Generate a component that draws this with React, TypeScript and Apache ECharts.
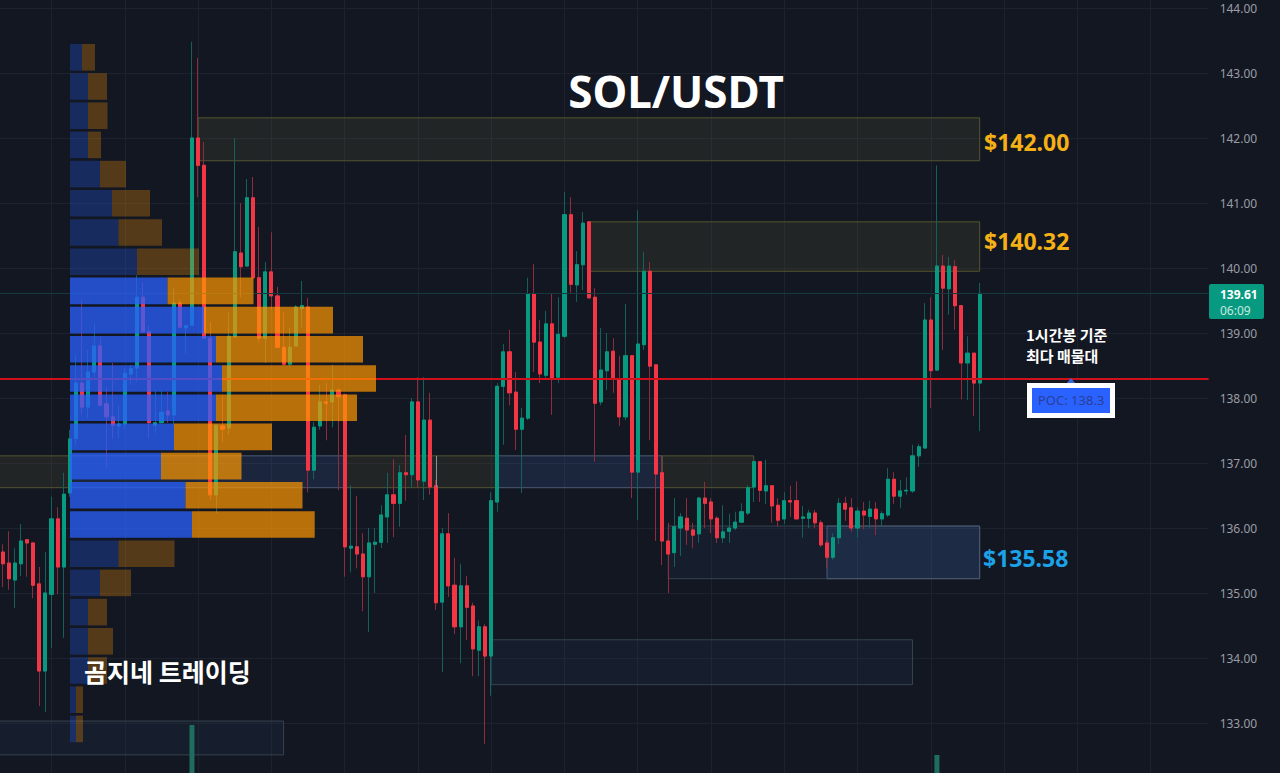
import React, { useEffect, useRef } from 'react';
import * as echarts from 'echarts';

const BG = '#131722';
const UP = '#089981';
const DOWN = '#f23645';

// one hourly candle per entry
const opens = [
  135.63, 135.46, 135.20, 135.45, 135.82, 135.77, 135.14, 133.80, 134.98, 136.14, 135.40, 136.54, 137.38, 138.23, 137.86, 138.40,
  138.80, 137.91, 137.71, 137.57, 137.60, 138.37, 138.46, 139.55, 139.02, 137.58, 137.62, 137.80, 137.74, 139.46, 139.08, 139.12,
  142.00, 141.58, 138.92, 136.51, 137.57, 137.54, 138.94, 140.23, 140.03, 141.08, 139.85, 138.92, 139.94, 139.57, 138.78, 138.52,
  138.80, 139.38, 139.40, 136.89, 137.57, 137.94, 137.94, 138.12, 138.05, 135.69, 135.71, 135.60, 135.25, 135.75, 135.78, 136.17,
  136.51, 136.38, 136.85, 136.82, 137.94, 136.72, 137.66, 136.65, 134.86, 135.91, 135.12, 134.48, 135.11, 134.80, 134.12, 134.48,
  134.03, 136.40, 138.18, 138.71, 138.09, 137.52, 137.69, 139.60, 138.86, 138.35, 139.14, 138.32, 138.95, 140.82, 139.74, 140.05,
  140.71, 139.55, 137.94, 138.42, 138.72, 138.28, 137.71, 138.65, 136.86, 138.82, 139.95, 138.51, 136.85, 135.80, 135.62, 136.00,
  136.15, 135.97, 135.91, 136.46, 136.40, 136.15, 135.85, 135.95, 136.00, 136.09, 136.23, 136.63, 137.02, 136.57, 136.65, 136.35,
  136.14, 136.42, 136.42, 136.15, 136.15, 136.23, 136.08, 135.77, 135.55, 135.85, 136.38, 136.31, 136.00, 136.26, 136.18, 136.29,
  136.14, 136.20, 136.75, 136.49, 136.57, 136.57, 137.11, 137.23, 139.20, 138.43, 140.03, 139.68, 140.02, 139.42, 138.54, 138.69,
  138.23,
];
const closes = [
  135.45, 135.22, 135.46, 135.80, 135.77, 135.12, 133.80, 135.00, 136.14, 135.40, 136.52, 137.37, 138.23, 137.86, 138.40, 138.80,
  137.89, 137.71, 137.58, 137.60, 138.38, 138.45, 139.55, 139.02, 137.62, 137.62, 137.78, 137.74, 139.46, 139.09, 139.11, 142.00,
  141.58, 138.92, 136.51, 137.58, 137.52, 138.95, 140.25, 140.02, 141.08, 139.85, 138.92, 139.94, 139.57, 138.78, 138.52, 138.78,
  139.40, 139.42, 136.89, 137.55, 137.94, 137.92, 138.12, 138.02, 135.71, 135.72, 135.60, 135.25, 135.77, 135.78, 136.20, 136.51,
  136.38, 136.85, 136.82, 137.94, 136.74, 137.66, 136.63, 134.85, 135.91, 135.11, 134.48, 135.11, 134.78, 134.14, 134.48, 134.03,
  136.42, 138.18, 138.71, 138.08, 137.52, 137.69, 139.60, 138.86, 138.37, 139.14, 138.31, 138.98, 140.82, 139.75, 140.05, 140.69,
  139.54, 137.92, 138.43, 138.71, 138.31, 137.71, 138.65, 136.86, 138.83, 139.95, 138.49, 136.83, 135.80, 135.60, 136.02, 136.17,
  135.97, 135.89, 136.46, 136.38, 136.14, 135.85, 135.94, 136.00, 136.09, 136.25, 136.62, 137.02, 136.58, 136.65, 136.34, 136.12,
  136.42, 136.40, 136.14, 136.17, 136.23, 136.08, 135.74, 135.55, 135.85, 136.38, 136.29, 136.00, 136.26, 136.20, 136.29, 136.14,
  136.22, 136.75, 136.49, 136.57, 136.58, 137.11, 137.25, 139.20, 138.42, 140.03, 139.69, 140.03, 139.42, 138.54, 138.69, 138.23,
  139.61,
];
const lows = [
  135.09, 135.05, 134.77, 135.26, 135.25, 134.92, 133.26, 133.17, 134.15, 134.98, 134.31, 136.48, 137.28, 137.74, 137.69, 138.32,
  137.89, 136.92, 137.38, 137.38, 137.51, 138.20, 138.25, 139.02, 137.38, 137.46, 137.62, 137.62, 137.58, 139.09, 138.69, 139.12,
  141.09, 138.92, 136.43, 136.23, 137.32, 137.43, 138.94, 139.55, 140.03, 139.85, 138.85, 138.54, 139.35, 138.78, 138.49, 138.48,
  138.80, 139.09, 136.55, 136.75, 137.51, 137.35, 137.55, 136.58, 135.25, 135.32, 135.38, 134.72, 134.40, 135.00, 135.69, 135.77,
  135.86, 136.02, 136.42, 136.62, 136.62, 136.43, 136.51, 134.74, 133.78, 134.94, 134.37, 133.92, 134.28, 133.72, 133.72, 132.68,
  133.42, 136.25, 137.28, 137.89, 137.20, 136.54, 137.66, 138.40, 138.23, 138.31, 137.74, 138.23, 138.92, 139.62, 139.48, 139.66,
  139.54, 137.02, 137.89, 138.12, 138.08, 137.57, 137.66, 136.46, 136.12, 138.74, 137.35, 135.80, 135.43, 135.00, 135.40, 135.57,
  135.74, 135.69, 135.77, 136.00, 135.92, 135.77, 135.77, 135.77, 135.97, 136.08, 136.20, 136.40, 136.40, 136.37, 136.08, 136.02,
  136.06, 136.17, 136.14, 135.85, 136.00, 136.00, 135.71, 135.38, 135.51, 135.75, 136.11, 135.94, 135.85, 135.98, 136.00, 135.89,
  136.02, 136.17, 136.37, 136.31, 136.51, 136.54, 136.94, 137.23, 137.85, 138.42, 138.74, 139.28, 139.05, 137.98, 137.97, 137.72,
  137.49,
];
const highs = [
  135.75, 135.95, 135.69, 136.06, 135.82, 135.77, 135.40, 135.63, 136.48, 136.32, 136.85, 137.51, 138.66, 139.51, 138.74, 139.15,
  138.94, 138.17, 138.54, 137.89, 138.46, 138.51, 139.89, 139.78, 139.12, 138.12, 138.12, 138.09, 139.69, 139.51, 139.11, 143.48,
  143.23, 141.94, 139.17, 137.58, 138.05, 139.32, 142.00, 141.00, 141.37, 141.40, 140.63, 140.09, 140.55, 139.71, 139.32, 139.08,
  139.43, 139.80, 139.54, 137.63, 138.20, 138.23, 138.51, 138.15, 138.05, 136.66, 136.49, 135.92, 136.00, 136.00, 136.35, 136.85,
  137.06, 136.97, 137.43, 138.00, 138.32, 138.32, 138.08, 136.74, 136.00, 136.23, 135.54, 135.45, 135.26, 134.85, 134.58, 134.52,
  136.55, 138.23, 138.83, 139.05, 138.40, 137.85, 139.85, 140.06, 139.20, 139.34, 139.60, 139.55, 141.17, 141.09, 140.26, 140.86,
  140.71, 139.69, 139.08, 139.00, 138.92, 138.65, 139.45, 138.65, 140.89, 140.25, 140.09, 138.51, 137.12, 136.08, 136.46, 136.23,
  136.46, 136.08, 136.48, 136.71, 136.46, 136.18, 136.35, 136.22, 136.25, 136.38, 136.66, 137.02, 137.02, 137.05, 136.66, 136.46,
  136.55, 136.65, 136.72, 136.34, 136.28, 136.28, 136.12, 135.82, 135.92, 136.46, 136.48, 136.46, 136.32, 136.40, 136.42, 136.40,
  136.26, 136.92, 136.86, 136.74, 136.78, 137.28, 137.29, 139.46, 139.55, 141.58, 140.20, 140.17, 140.12, 139.42, 138.95, 138.69,
  139.77,
];

// only these two volume bars reach into the visible area
const volumePeaks: Record<number, number> = { 31: 63, 153: 33 };

// volume profile rows, top row first
const buyVolume = [12, 18, 18, 18, 30, 42, 48.5, 67, 97.5, 134, 146, 152, 146, 104, 91, 115.5, 122, 48.5, 30, 18, 18, 18, 6, 6];
const sellVolume = [13, 19, 19.5, 13, 26, 38, 43.5, 62, 86, 129, 147, 154, 141, 98, 80.5, 117, 122.7, 56, 31, 19, 25, 19, 7, 7];
const valueAreaRows = [8, 9, 10, 11, 12, 13, 14, 15, 16];

const priceTicks = { min: 132, max: 145, interval: 1 };
const lastPrice = 139.61;
const poc = 138.3;

// the chart has one empty slot before the first candle and room after the last
const slots = Array.from({ length: 199 }, (_, i) => String(i));

// from / to are slots on the time axis, top / bottom are prices
const zones = [
  { from: 33, to: 161, top: 142.31, bottom: 141.65, kind: 'supply' },
  { from: 97, to: 161, top: 140.71, bottom: 139.95, kind: 'supply' },
  { from: 0, to: 12, top: 137.11, bottom: 136.62, kind: 'supply' },
  { from: 12, to: 57, top: 137.11, bottom: 136.62, kind: 'demand' },
  { from: 57, to: 82, top: 137.11, bottom: 136.62, kind: 'supply' },
  { from: 82, to: 109, top: 137.11, bottom: 136.62, kind: 'demand' },
  { from: 109, to: 124, top: 137.11, bottom: 136.62, kind: 'supply' },
  { from: 110, to: 161, top: 136.03, bottom: 135.22, kind: 'faint' },
  { from: 136, to: 161, top: 136.03, bottom: 135.22, kind: 'demand' },
  { from: 81, to: 150, top: 134.28, bottom: 133.59, kind: 'faint' },
  { from: 0, to: 47, top: 133.03, bottom: 132.51, kind: 'faint' },
];

const zoneStyles: Record<string, { color: string; borderColor: string; borderWidth: number }> = {
  supply: { color: 'rgba(120,123,60,0.15)', borderColor: '#53552f', borderWidth: 1 },
  demand: { color: 'rgba(60,100,170,0.2)', borderColor: '#4c5a72', borderWidth: 1 },
  faint: { color: 'rgba(60,105,150,0.09)', borderColor: '#35444f', borderWidth: 1 },
};

const App: React.FC = () => {
  const chartRef = useRef<HTMLDivElement | null>(null);

  useEffect(() => {
    if (!chartRef.current) return;
    document.body.style.margin = '0';
    document.body.style.background = BG;
    const chart = echarts.init(chartRef.current, undefined, { renderer: 'svg' });

    const blank = ['-', '-', '-', '-'];
    const candles = opens.map((o, i) => [o, closes[i], lows[i], highs[i]]);
    // second pass without the shadows, so wicks can stay darker than the bodies
    const bodies = opens.map((o, i) => [o, closes[i], Math.min(o, closes[i]), Math.max(o, closes[i])]);
    const volumes = opens.map((_, i) => volumePeaks[i] ?? '-');

    const option: echarts.EChartsOption = {
      animation: false,
      backgroundColor: BG,
      title: {
        text: 'SOL/USDT',
        left: 671,
        top: 64,
        textAlign: 'center',
        textStyle: { color: '#ffffff', fontFamily: 'Noto Sans', fontWeight: 'bold', fontSize: 44 },
      },
      grid: [
        { left: -6.46, top: -57, width: 1215.1, height: 845, outerBoundsMode: 'none' },
        { left: 70, top: 42.7, width: 306, height: 700.8, outerBoundsMode: 'none' },
      ] as any,
      xAxis: [
        {
          type: 'category',
          gridIndex: 0,
          data: slots,
          axisLine: { show: false },
          axisTick: { show: false },
          axisLabel: { show: false },
          splitLine: {
            show: true,
            interval: (i: number) => i % 12 === 9,
            alignWithLabel: true,
            lineStyle: { color: '#1d222e', width: 1 },
          } as any,
        },
        { type: 'value', gridIndex: 1, min: 0, max: 306, show: false },
      ],
      yAxis: [
        {
          type: 'value',
          gridIndex: 0,
          position: 'right',
          min: priceTicks.min,
          max: priceTicks.max,
          interval: priceTicks.interval,
          axisLine: { show: false },
          axisTick: { show: false },
          axisLabel: {
            margin: 11,
            color: '#9a9da6',
            fontFamily: 'Noto Sans',
            fontSize: 12,
            showMinLabel: false,
            showMaxLabel: false,
            formatter: (v: number) => v.toFixed(2),
          },
          splitLine: { lineStyle: { color: '#1d222e', width: 1 } },
        },
        { type: 'value', gridIndex: 0, min: 0, max: 845, show: false },
        {
          type: 'category',
          gridIndex: 1,
          inverse: true,
          data: buyVolume.map((_, i) => String(i)),
          show: false,
        },
      ],
      series: [
        {
          name: 'wicks',
          type: 'candlestick',
          xAxisIndex: 0,
          yAxisIndex: 0,
          z: 2,
          barWidth: 3.6,
          data: [blank, ...candles] as any,
          itemStyle: {
            color: '#14605a',
            color0: '#8c2c3c',
            borderColor: '#14605a',
            borderColor0: '#8c2c3c',
            borderWidth: 1,
          },
          markArea: {
            silent: true,
            data: zones.map((z) => [
              { xAxis: z.from, yAxis: z.top, itemStyle: zoneStyles[z.kind] },
              { xAxis: z.to, yAxis: z.bottom },
            ]) as any,
          },
        },
        {
          name: 'bodies',
          type: 'candlestick',
          xAxisIndex: 0,
          yAxisIndex: 0,
          z: 3,
          barWidth: 3.6,
          data: [blank, ...bodies] as any,
          itemStyle: { color: UP, color0: DOWN, borderColor: UP, borderColor0: DOWN, borderWidth: 1 },
          markLine: {
            silent: true,
            symbol: 'none',
            label: { show: false },
            z: 4,
            data: [
              { yAxis: lastPrice, lineStyle: { color: '#15393f', width: 1, type: 'solid' } },
              { yAxis: poc, lineStyle: { color: '#d0101a', width: 2.2, type: 'solid' } },
              [
                { coord: [72, 137.11], lineStyle: { color: '#8a8f9a', width: 1, type: 'solid' } },
                { coord: [72, 136.62] },
              ],
            ] as any,
          },
        },
        {
          name: 'volume',
          type: 'bar',
          xAxisIndex: 0,
          yAxisIndex: 1,
          z: 1,
          barWidth: 5,
          data: ['-', ...volumes] as any,
          itemStyle: { color: '#1e6d5f' },
        },
        {
          name: 'buy',
          type: 'bar',
          xAxisIndex: 1,
          yAxisIndex: 2,
          stack: 'profile',
          z: 6,
          barWidth: 26.6,
          data: buyVolume,
          itemStyle: {
            color: (p: any) =>
              valueAreaRows.includes(p.dataIndex) ? 'rgba(41,98,255,0.75)' : 'rgba(41,98,255,0.28)',
          },
        },
        {
          name: 'sell',
          type: 'bar',
          xAxisIndex: 1,
          yAxisIndex: 2,
          stack: 'profile',
          z: 6,
          barWidth: 26.6,
          data: sellVolume,
          itemStyle: {
            color: (p: any) =>
              valueAreaRows.includes(p.dataIndex) ? 'rgba(255,152,0,0.7)' : 'rgba(255,152,0,0.28)',
          },
        },
      ],
      graphic: [
        label('$142.00', 984, 142, '#f5b015', 'bold 23px "Noto Sans"'),
        label('$140.32', 984, 241, '#f5b015', 'bold 23px "Noto Sans"'),
        label('$135.58', 983, 558, '#1ba2e8', 'bold 23px "Noto Sans"'),
        label('곰지네 트레이딩', 84, 671, '#ffffff', 'bold 25px "Noto Sans CJK KR"'),
        label('1시간봉 기준', 1026, 334.5, '#ffffff', 'bold 15px "Noto Sans CJK KR"'),
        label('최다 매물대', 1026, 355, '#ffffff', 'bold 15px "Noto Sans CJK KR"'),
        {
          type: 'polygon',
          z: 20,
          shape: { points: [[1071, 378], [1076, 384], [1066, 384]] },
          style: { fill: '#3d63d8' },
        },
        {
          type: 'rect',
          z: 20,
          shape: { x: 1029.5, y: 385.5, width: 83, height: 30 },
          style: { fill: '#2962ff', stroke: '#ffffff', lineWidth: 5 },
        },
        label('POC: 138.3', 1038, 400, '#2b3f96', '13px "Noto Sans"'),
        {
          type: 'rect',
          z: 20,
          shape: { x: 1209, y: 284, width: 55, height: 35, r: 2 },
          style: { fill: UP },
        },
        label('139.61', 1220, 294.5, '#ffffff', 'bold 12px "Noto Sans"'),
        label('06:09', 1220, 310, '#c5e8df', '12px "Noto Sans"'),
      ] as any,
    };

    chart.setOption(option);

    return () => {
      chart.dispose();
    };
  }, []);

  return <div ref={chartRef} style={{ position: 'absolute', left: 0, top: 0, width: 1280, height: 773 }} />;
};

function label(text: string, x: number, y: number, fill: string, font: string) {
  return { type: 'text', z: 21, x, y, style: { text, fill, font, verticalAlign: 'middle' } };
}

export default App;
